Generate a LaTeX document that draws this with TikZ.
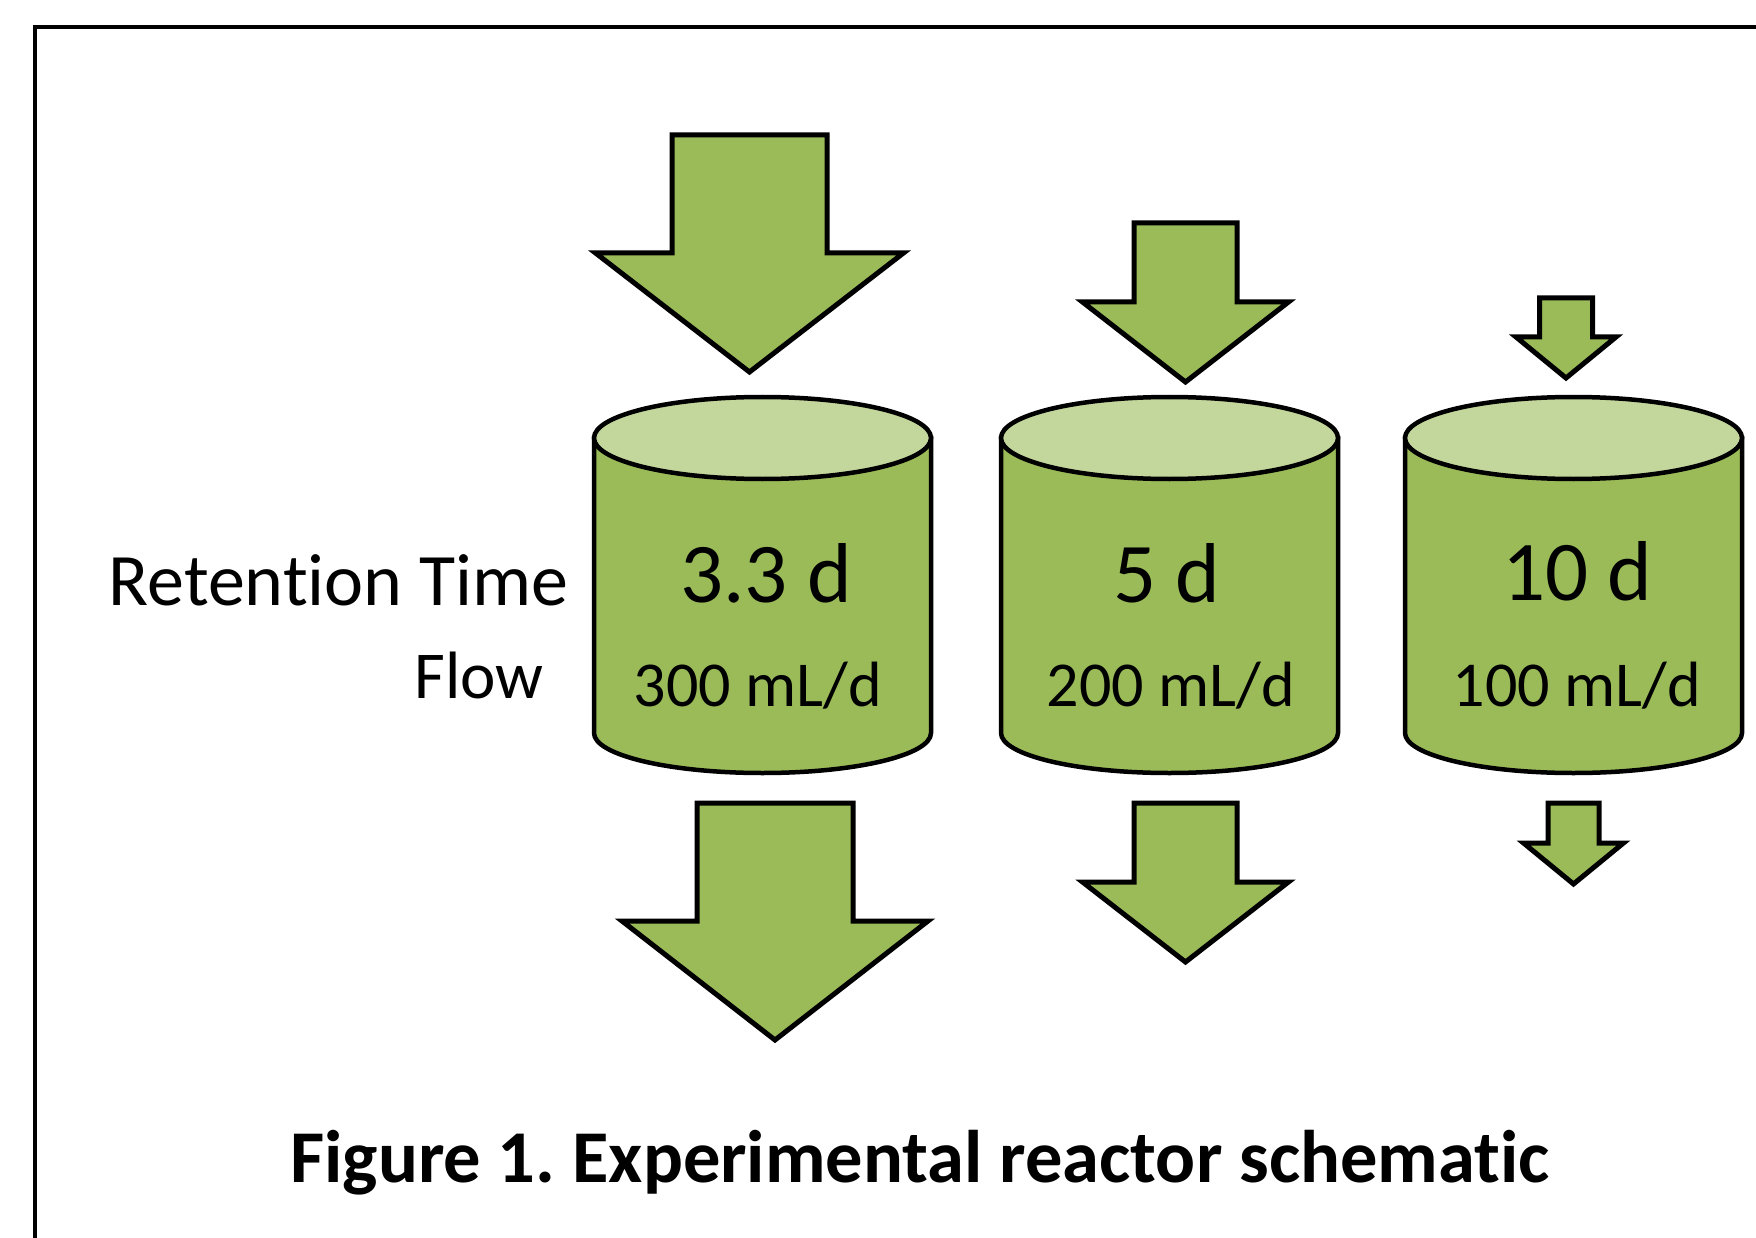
\documentclass[tikz,border=0pt]{standalone}
\usepackage{fontspec}
\setmainfont{Carlito}[Ligatures={NoCommon}]
\frenchspacing
\definecolor{olivefill}{HTML}{9BBB59}
\definecolor{olivelight}{HTML}{C3D69B}
\tikzset{
  blockarrow/.style={draw=black, line width=5pt, fill=olivefill, line join=miter},
  tankbody/.style={draw=black, line width=4.5pt, fill=olivefill},
  tanktop/.style={draw=black, line width=4.5pt, fill=olivelight},
  bigtext/.style={inner sep=0pt, anchor=base, font=\fontsize{85}{92}\selectfont},
  ratetext/.style={inner sep=0pt, anchor=base, font=\fontsize{64}{70}\selectfont},
}
% block arrow pointing down: centre x, top y, head y, tip y, half shaft, half head
\newcommand{\flowarrow}[6]{%
  \draw[blockarrow] ({#1-#5},#2) -- ({#1+#5},#2) -- ({#1+#5},#3) -- ({#1+#6},#3)
    -- (#1,#4) -- ({#1-#6},#3) -- ({#1-#5},#3) -- cycle;}
% tank: centre x
\newcommand{\tank}[1]{%
  \draw[tankbody] ({#1-168.5},438) -- ({#1-168.5},733)
    arc[start angle=180, end angle=360, x radius=168.5pt, y radius=40pt]
    -- ({#1+168.5},438) -- cycle;
  \draw[tanktop] (#1,438) ellipse[x radius=168.5pt, y radius=41pt];}
\begin{document}
\begin{tikzpicture}[x=1pt, y=-1pt]
\useasboundingbox (0,0) rectangle (1756,1238);

% frame
\draw[line width=4.5pt] (35,1250) -- (35,27) -- (1770,27);

% inflow arrows
\flowarrow{749.5}{135}{253}{372}{77.5}{154}
\flowarrow{1185.5}{223}{302}{382}{51.5}{103}
\flowarrow{1566}{298}{337}{378}{26.5}{50}

% tanks
\tank{762.5}
\tank{1169.5}
\tank{1573.5}

% outflow arrows
\flowarrow{775}{803}{921}{1040}{78}{153}
\flowarrow{1185.5}{803}{882}{962}{51.5}{103}
\flowarrow{1573.5}{803}{843}{884}{25.5}{50}

% labels
\node[bigtext] (rt1) at (766,602) {3.3 d};
\node[ratetext] (q1) at (758,706) {300 mL/d};
\node[bigtext] (rt2) at (1167,602) {5 d};
\node[ratetext] (q2) at (1171,706) {200 mL/d};
\node[bigtext] (rt3) at (1577,600) {10 d};
\node[ratetext] (q3) at (1577,706) {100 mL/d};

\node[inner sep=0pt, anchor=base, font=\fontsize{74}{80}\selectfont] (rtlabel) at (338.5,605) {Retention Time};
\node[inner sep=0pt, anchor=base, font=\fontsize{67}{72}\selectfont] (flowlabel) at (479,698) {Flow};

\node[inner sep=0pt, anchor=base, font=\fontsize{74.5}{82}\selectfont\bfseries] (caption) at (920,1182) {Figure 1. Experimental reactor schematic};
\end{tikzpicture}
\end{document}
